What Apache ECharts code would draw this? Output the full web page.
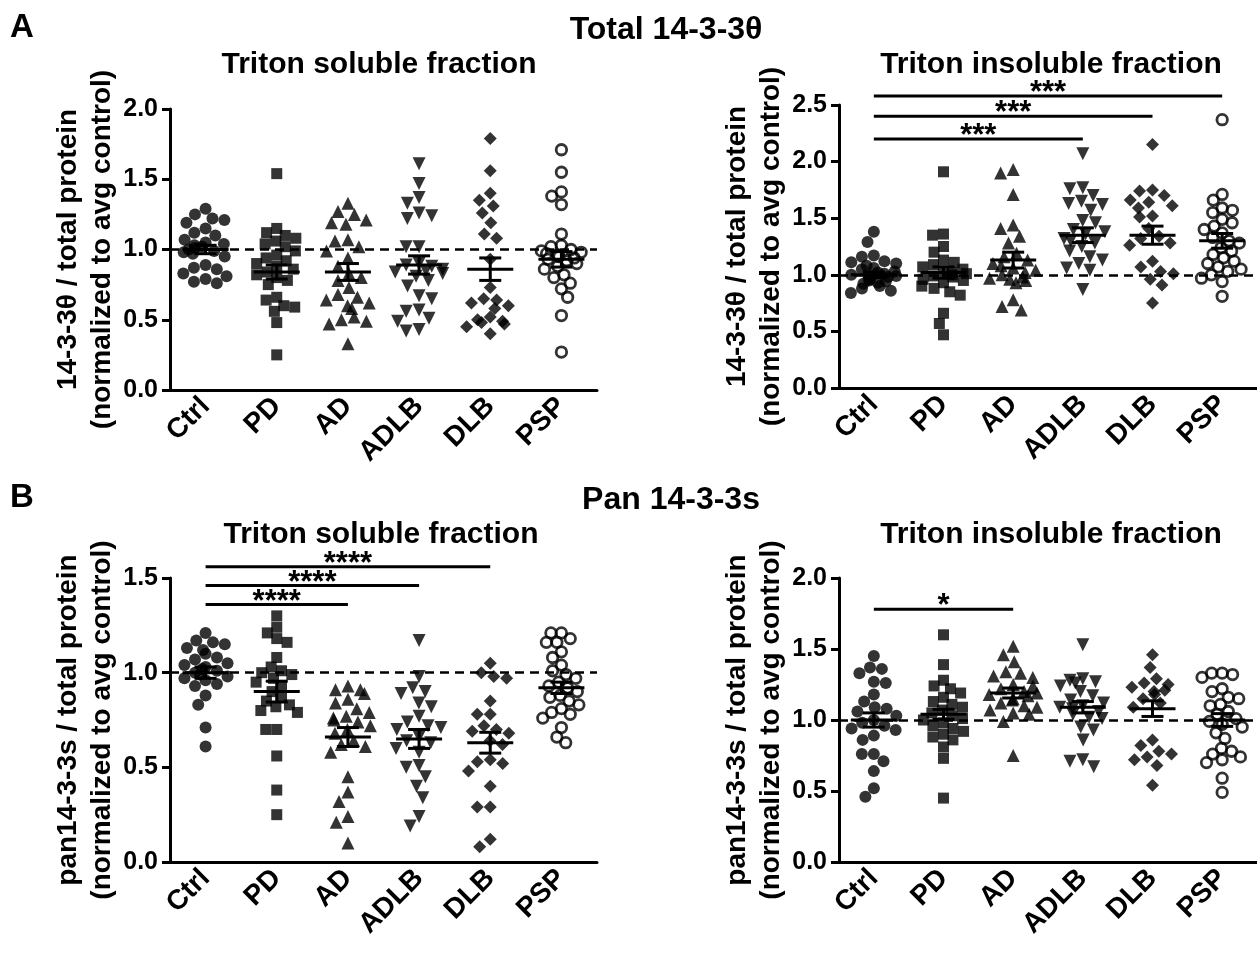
<!DOCTYPE html>
<html>
<head>
<meta charset="utf-8">
<script src="https://cdn.jsdelivr.net/npm/echarts@6/dist/echarts.min.js"></script>
<style>
  html, body { margin: 0; background: #fff; }
  #main { width: 1257px; height: 955px; }
</style>
</head>
<body>
<div id="main"></div>
<script>
var groups = ['Ctrl', 'PD', 'AD', 'ADLB', 'DLB', 'PSP'];

// A: total 14-3-3 theta, triton soluble
var thetaSol = [
  [1.29, 1.25, 1.22, 1.21, 1.19, 1.15, 1.12, 1.10, 1.07, 1.05, 1.04, 1.03, 1.02, 1.01, 1.00, 0.99, 0.98, 0.97, 0.95, 0.89, 0.87, 0.86, 0.83, 0.81, 0.79, 0.77, 0.76],
  [1.54, 1.15, 1.12, 1.10, 1.08, 1.06, 1.04, 1.02, 0.99, 0.96, 0.94, 0.92, 0.90, 0.88, 0.86, 0.84, 0.82, 0.80, 0.78, 0.75, 0.66, 0.64, 0.60, 0.59, 0.56, 0.48, 0.25],
  [1.33, 1.27, 1.25, 1.21, 1.19, 1.18, 1.07, 1.06, 1.02, 0.99, 0.94, 0.88, 0.83, 0.80, 0.78, 0.73, 0.68, 0.66, 0.64, 0.62, 0.60, 0.58, 0.52, 0.50, 0.49, 0.47, 0.33],
  [1.61, 1.47, 1.37, 1.33, 1.26, 1.24, 1.22, 1.02, 1.02, 0.90, 0.89, 0.88, 0.86, 0.85, 0.84, 0.83, 0.81, 0.78, 0.74, 0.67, 0.65, 0.57, 0.56, 0.51, 0.49, 0.43, 0.42],
  [1.79, 1.56, 1.40, 1.35, 1.31, 1.26, 1.19, 1.11, 1.08, 0.93, 0.73, 0.65, 0.64, 0.62, 0.60, 0.58, 0.52, 0.50, 0.49, 0.48, 0.47, 0.45, 0.40],
  [1.71, 1.55, 1.41, 1.38, 1.32, 1.11, 1.03, 1.02, 1.00, 0.99, 0.98, 0.97, 0.96, 0.95, 0.94, 0.93, 0.92, 0.90, 0.88, 0.86, 0.82, 0.80, 0.76, 0.72, 0.66, 0.53, 0.27]
];
var thetaSolMean = [1.00, 0.84, 0.84, 0.89, 0.86, 0.93];
var thetaSolSem = [0.03, 0.05, 0.06, 0.065, 0.08, 0.055];
var thetaSolSig = [];

// A: total 14-3-3 theta, triton insoluble
var thetaIns = [
  [1.38, 1.29, 1.17, 1.16, 1.12, 1.11, 1.10, 1.08, 1.06, 1.05, 1.03, 1.02, 1.01, 1.00, 0.99, 0.98, 0.97, 0.96, 0.95, 0.94, 0.93, 0.92, 0.90, 0.88, 0.86, 0.84],
  [1.91, 1.36, 1.35, 1.25, 1.20, 1.13, 1.11, 1.09, 1.07, 1.05, 1.03, 1.02, 1.01, 1.00, 0.99, 0.98, 0.96, 0.95, 0.93, 0.90, 0.88, 0.85, 0.82, 0.66, 0.57, 0.47],
  [1.93, 1.90, 1.71, 1.44, 1.41, 1.34, 1.28, 1.19, 1.16, 1.13, 1.10, 1.08, 1.06, 1.04, 1.02, 1.00, 0.98, 0.97, 0.96, 0.95, 0.93, 0.78, 0.72, 0.69],
  [2.07, 1.77, 1.76, 1.70, 1.65, 1.63, 1.62, 1.57, 1.48, 1.46, 1.40, 1.38, 1.36, 1.32, 1.30, 1.28, 1.25, 1.21, 1.16, 1.13, 1.10, 1.06, 1.04, 0.87],
  [2.15, 1.75, 1.74, 1.70, 1.66, 1.64, 1.61, 1.59, 1.52, 1.51, 1.41, 1.34, 1.32, 1.28, 1.26, 1.12, 1.07, 1.03, 1.01, 0.96, 0.91, 0.75],
  [2.37, 1.71, 1.66, 1.59, 1.57, 1.55, 1.49, 1.46, 1.43, 1.40, 1.37, 1.33, 1.30, 1.28, 1.24, 1.21, 1.18, 1.15, 1.12, 1.10, 1.07, 1.05, 1.03, 1.00, 0.97, 0.94, 0.81]
];
var thetaInsMean = [1.00, 1.02, 1.13, 1.35, 1.35, 1.30];
var thetaInsSem = [0.025, 0.05, 0.07, 0.065, 0.08, 0.065];
var thetaInsSig = [[0, 3, 2.20, '***'], [0, 4, 2.40, '***'], [0, 5, 2.58, '***']];

// B: pan 14-3-3, triton soluble
var panSol = [
  [1.21, 1.17, 1.16, 1.15, 1.13, 1.12, 1.10, 1.08, 1.07, 1.05, 1.04, 1.03, 1.02, 1.01, 1.00, 0.99, 0.98, 0.97, 0.96, 0.94, 0.93, 0.88, 0.83, 0.71, 0.61],
  [1.30, 1.24, 1.21, 1.18, 1.16, 1.08, 1.03, 1.01, 1.00, 0.99, 0.97, 0.95, 0.93, 0.90, 0.87, 0.85, 0.83, 0.82, 0.80, 0.79, 0.70, 0.70, 0.56, 0.38, 0.25],
  [0.93, 0.91, 0.91, 0.89, 0.86, 0.84, 0.81, 0.79, 0.77, 0.76, 0.75, 0.74, 0.72, 0.70, 0.68, 0.64, 0.62, 0.61, 0.58, 0.45, 0.37, 0.32, 0.24, 0.21, 0.10],
  [1.17, 0.98, 0.92, 0.90, 0.89, 0.84, 0.82, 0.77, 0.74, 0.72, 0.71, 0.70, 0.66, 0.64, 0.63, 0.60, 0.58, 0.51, 0.50, 0.45, 0.40, 0.34, 0.24, 0.19],
  [1.05, 1.00, 0.98, 0.97, 0.85, 0.78, 0.78, 0.72, 0.70, 0.69, 0.68, 0.64, 0.62, 0.54, 0.53, 0.52, 0.48, 0.40, 0.29, 0.29, 0.12, 0.08],
  [1.21, 1.21, 1.18, 1.16, 1.16, 1.11, 1.08, 1.04, 1.01, 0.99, 0.97, 0.95, 0.93, 0.92, 0.90, 0.88, 0.87, 0.85, 0.83, 0.81, 0.79, 0.78, 0.76, 0.71, 0.66, 0.63]
];
var panSolMean = [1.00, 0.90, 0.66, 0.65, 0.63, 0.92];
var panSolSem = [0.03, 0.055, 0.05, 0.05, 0.055, 0.03];
var panSolSig = [[0, 2, 1.36, '****'], [0, 3, 1.46, '****'], [0, 4, 1.56, '****']];

// B: pan 14-3-3, triton insoluble
var panIns = [
  [1.45, 1.37, 1.36, 1.33, 1.27, 1.26, 1.18, 1.13, 1.09, 1.08, 1.06, 1.03, 1.00, 0.98, 0.96, 0.94, 0.93, 0.89, 0.86, 0.76, 0.76, 0.71, 0.64, 0.52, 0.46],
  [1.60, 1.39, 1.28, 1.24, 1.22, 1.19, 1.16, 1.13, 1.11, 1.09, 1.07, 1.05, 1.03, 1.01, 1.00, 0.98, 0.96, 0.94, 0.92, 0.90, 0.88, 0.86, 0.81, 0.73, 0.45],
  [1.52, 1.46, 1.41, 1.34, 1.33, 1.31, 1.30, 1.25, 1.24, 1.22, 1.20, 1.19, 1.18, 1.17, 1.15, 1.14, 1.12, 1.10, 1.09, 1.07, 1.05, 1.04, 0.99, 0.75],
  [1.53, 1.29, 1.28, 1.27, 1.26, 1.24, 1.20, 1.17, 1.14, 1.12, 1.10, 1.09, 1.08, 1.06, 1.04, 1.02, 1.01, 0.95, 0.93, 0.86, 0.72, 0.71, 0.67],
  [1.46, 1.37, 1.29, 1.26, 1.25, 1.23, 1.21, 1.20, 1.18, 1.15, 1.12, 1.09, 0.86, 0.82, 0.78, 0.76, 0.74, 0.72, 0.68, 0.54],
  [1.33, 1.33, 1.32, 1.30, 1.22, 1.20, 1.16, 1.15, 1.11, 1.10, 1.06, 1.04, 1.01, 0.99, 0.97, 0.95, 0.91, 0.87, 0.80, 0.78, 0.76, 0.74, 0.72, 0.70, 0.59, 0.49]
];
var panInsMean = [1.00, 1.04, 1.19, 1.09, 1.08, 1.00];
var panInsSem = [0.05, 0.035, 0.035, 0.04, 0.055, 0.045];
var panInsSig = [[0, 2, 1.78, '*']];

var yMax = [2.0, 2.5, 1.5, 2.0];
var thetaName = '14-3-3\u03b8 / total protein\n(normalized to avg control)';
var panName = 'pan14-3-3s / total protein\n(normalized to avg control)';

var FONT = '"Liberation Sans", Arial, sans-serif';
var shapes = ['circle', 'rect', 'triangle', 'triangle', 'diamond', 'circle'];
var turns = [0, 0, 0, 180, 0, 0];
var sizes = [12, 11, 13, 13, 13, 10.5];

var grids = [
  { left: 170, top: 109, width: 427, height: 281 },
  { left: 839, top: 105, width: 427, height: 283 },
  { left: 170, top: 578, width: 427, height: 284 },
  { left: 839, top: 578, width: 427, height: 284 }
];

function renderMean(params, api) {
  var c = api.coord([api.value(0), api.value(1)]);
  var hi = api.coord([api.value(0), api.value(1) + api.value(2)]);
  var lo = api.coord([api.value(0), api.value(1) - api.value(2)]);
  var st = { stroke: '#000', lineWidth: 3 };
  return {
    type: 'group',
    children: [
      { type: 'line', shape: { x1: c[0] - 23, y1: c[1], x2: c[0] + 23, y2: c[1] }, style: st },
      { type: 'line', shape: { x1: c[0], y1: hi[1], x2: c[0], y2: lo[1] }, style: st },
      { type: 'line', shape: { x1: c[0] - 11, y1: hi[1], x2: c[0] + 11, y2: hi[1] }, style: st },
      { type: 'line', shape: { x1: c[0] - 11, y1: lo[1], x2: c[0] + 11, y2: lo[1] }, style: st }
    ]
  };
}

function sigRenderer(sig) {
  return function (params, api) {
    var a = api.coord([api.value(0), api.value(2)]);
    var b = api.coord([api.value(1), api.value(2)]);
    return {
      type: 'group',
      children: [
        { type: 'line', shape: { x1: a[0], y1: a[1], x2: b[0], y2: b[1] }, style: { stroke: '#000', lineWidth: 3 } },
        { type: 'text', x: (a[0] + b[0]) / 2, y: a[1] + 13,
          style: { text: sig[params.dataIndex][3], fill: '#000', align: 'center', verticalAlign: 'bottom',
                   fontSize: 31, fontWeight: 'bold', fontFamily: FONT } }
      ]
    };
  };
}

function panelSeries(p, vals, mean, sem, sig) {
  var out = [];
  vals.forEach(function (list, g) {
    var open = g === 5;
    out.push({
      type: 'scatter',
      xAxisIndex: p, yAxisIndex: p,
      symbol: shapes[g], symbolRotate: turns[g], symbolSize: sizes[g],
      itemStyle: open ? { color: 'rgba(0,0,0,0)', borderColor: '#000', borderWidth: 2.8 } : { color: '#000' },
      data: list.map(function (v) { return [g, v]; }),
      silent: true,
      z: 3,
      markLine: g === 0 ? {
        silent: true, symbol: 'none', label: { show: false },
        lineStyle: { color: '#000', width: 2.5, type: [9, 6] },
        data: [{ yAxis: 1 }]
      } : undefined
    });
  });
  out.push({
    type: 'custom', xAxisIndex: p, yAxisIndex: p, silent: true, z: 4,
    renderItem: renderMean,
    data: mean.map(function (m, i) { return [i, m, sem[i]]; })
  });
  if (sig.length) {
    out.push({
      type: 'custom', xAxisIndex: p, yAxisIndex: p, silent: true, z: 4, clip: false,
      renderItem: sigRenderer(sig),
      data: sig.map(function (s) { return [s[0], s[1], s[2]]; })
    });
  }
  return out;
}

function xAxisFor(p) {
  return {
    type: 'category', gridIndex: p, data: groups,
    jitter: 48, jitterOverlap: false, jitterMargin: 0,
    axisLine: { lineStyle: { color: '#000', width: 3 } },
    axisTick: { alignWithLabel: true, length: 7, lineStyle: { color: '#000', width: 3 } },
    axisLabel: { rotate: 45, interval: 0, margin: 12, color: '#000', fontSize: 28, fontWeight: 'bold', fontFamily: FONT },
    splitLine: { show: false }
  };
}

function yAxisFor(p, name) {
  return {
    type: 'value', gridIndex: p, min: 0, max: yMax[p], interval: 0.5,
    name: name, nameLocation: 'middle', nameGap: 45,
    nameTextStyle: { color: '#000', fontSize: 28, fontWeight: 'bold', fontFamily: FONT, lineHeight: 34 },
    axisLine: { show: true, lineStyle: { color: '#000', width: 3 } },
    axisTick: { show: true, length: 8, lineStyle: { color: '#000', width: 3 } },
    axisLabel: { color: '#000', fontSize: 25, fontWeight: 'bold', fontFamily: FONT, margin: 12,
                 formatter: function (v) { return v.toFixed(1); } },
    splitLine: { show: false }
  };
}

function label(text, x, y, size, align) {
  return { type: 'text', x: x, y: y,
    style: { text: text, fill: '#000', align: align || 'center', verticalAlign: 'middle',
             fontSize: size, fontWeight: 'bold', fontFamily: FONT } };
}

var chart = echarts.init(document.getElementById('main'));
chart.setOption({
  animation: false,
  backgroundColor: '#fff',
  textStyle: { fontFamily: FONT },
  grid: grids,
  xAxis: [0, 1, 2, 3].map(xAxisFor),
  yAxis: [yAxisFor(0, thetaName), yAxisFor(1, thetaName), yAxisFor(2, panName), yAxisFor(3, panName)],
  graphic: [
    label('A', 10, 28, 33, 'left'),
    label('Total 14-3-3\u03b8', 666, 30, 32),
    label('Triton soluble fraction', 379, 65, 30),
    label('Triton insoluble fraction', 1051, 65, 30),
    label('B', 10, 498, 33, 'left'),
    label('Pan 14-3-3s', 671, 500, 32),
    label('Triton soluble fraction', 381, 535, 30),
    label('Triton insoluble fraction', 1051, 535, 30)
  ],
  series: [].concat(
    panelSeries(0, thetaSol, thetaSolMean, thetaSolSem, thetaSolSig),
    panelSeries(1, thetaIns, thetaInsMean, thetaInsSem, thetaInsSig),
    panelSeries(2, panSol, panSolMean, panSolSem, panSolSig),
    panelSeries(3, panIns, panInsMean, panInsSem, panInsSig)
  )
});
</script>
</body>
</html>
